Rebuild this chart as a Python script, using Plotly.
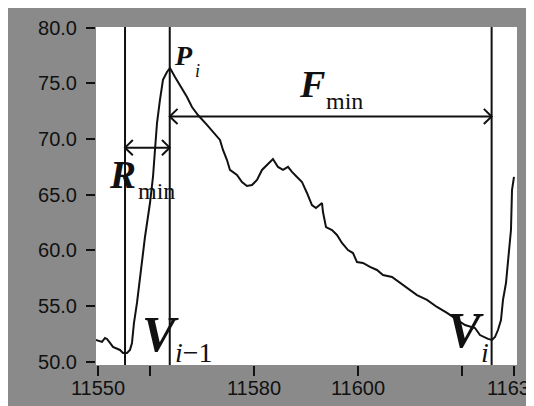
import plotly.graph_objects as go

# ---- data ----
sample_x = [11549.6, 11550.77, 11551.35, 11551.73, 11552.31, 11552.88, 11554.23, 11554.81,
            11555.58, 11556.15, 11556.54, 11556.92, 11557.5, 11558.08, 11559.04, 11560.0,
            11560.58, 11560.96, 11561.35, 11561.92, 11562.5, 11563.27, 11563.85, 11564.81,
            11565.77, 11567.12, 11568.08, 11569.23, 11570.96, 11572.12, 11573.46, 11574.04,
            11574.81, 11575.38, 11576.73, 11577.69, 11578.65, 11579.62, 11580.58, 11581.54,
            11582.5, 11583.65, 11584.62, 11585.58, 11586.54, 11587.31, 11588.27, 11589.23,
            11590.19, 11591.15, 11591.92, 11593.08, 11593.27, 11593.85, 11595.0, 11595.96,
            11596.92, 11598.08, 11599.04, 11599.81, 11600.96, 11602.31, 11603.65, 11604.81,
            11606.54, 11608.08, 11609.42, 11611.35, 11613.27, 11615.19, 11617.12, 11618.65,
            11620.58, 11622.5, 11623.46, 11625.0, 11625.77, 11626.35, 11626.92, 11627.5,
            11627.88, 11628.46, 11628.85, 11629.42, 11629.62, 11630.0]
pressure = [51.97, 51.79, 52.15, 52.06, 51.70, 51.34, 51.07, 50.80,
            50.80, 51.07, 51.70, 53.49, 55.29, 57.62, 61.21, 64.26,
            66.60, 69.02, 71.44, 73.51, 75.31, 76.02, 76.38, 75.57,
            74.86, 73.78, 72.88, 72.16, 71.27, 70.64, 69.92, 69.02,
            68.12, 67.23, 66.78, 66.15, 65.79, 65.88, 66.33, 67.23,
            67.68, 68.21, 67.50, 67.23, 67.50, 67.05, 66.60, 66.15,
            65.16, 64.08, 63.81, 64.26, 63.45, 62.10, 61.83, 61.39,
            60.67, 60.04, 59.77, 58.96, 58.88, 58.52, 58.25, 57.80,
            57.62, 57.08, 56.63, 56.00, 55.56, 54.93, 54.39, 53.94,
            53.31, 53.04, 52.41, 52.06, 51.97, 52.23, 52.86, 53.76,
            55.55, 57.08, 59.15, 61.84, 65.43, 66.60]

marker_x = [11555.2, 11563.8, 11625.7]          # V(i-1), P(i), V(i) vertical lines
r_arrow = (11555.2, 11563.8, 69.23)              # R_min span
f_arrow = (11563.8, 11625.7, 72.03)              # F_min span

x_tick_vals = [11550, 11560, 11580, 11600, 11620, 11630]
x_tick_text = ["11550", "", "11580", "11600", "", "11630"]

# ---- styling ----
X_RANGE = [11549.62, 11630.58]
Y_RANGE = [49.72, 80.06]
ARM_DX = 1.5
ARM_DY = 0.68
INK = "#111111"
SERIF = "Liberation Serif"

fig = go.Figure()

fig.add_trace(go.Scatter(x=sample_x, y=pressure, mode="lines",
                         line=dict(color=INK, width=2), showlegend=False,
                         hoverinfo="skip"))

# double-headed arrows (line + open chevrons)
for x1, x2, yv in (r_arrow, f_arrow):
    ax = [x1, x2, None,
          x1 + ARM_DX, x1, x1 + ARM_DX, None,
          x2 - ARM_DX, x2, x2 - ARM_DX]
    ay = [yv, yv, None,
          yv + ARM_DY, yv, yv - ARM_DY, None,
          yv + ARM_DY, yv, yv - ARM_DY]
    fig.add_trace(go.Scatter(x=ax, y=ay, mode="lines",
                             line=dict(color=INK, width=2), showlegend=False,
                             hoverinfo="skip"))

shapes = []
for mx in marker_x:
    shapes.append(dict(type="line", xref="x", yref="paper", x0=mx, x1=mx, y0=0, y1=1,
                       line=dict(color=INK, width=2), layer="above"))


def label(text, x, y, size, italic=True, bold=False):
    return dict(text=text, x=x, y=y, xref="x", yref="y", showarrow=False,
                xanchor="left", yanchor="middle",
                font=dict(family=SERIF, size=size, color=INK,
                          style="italic" if italic else "normal",
                          weight="bold" if bold else "normal"))


annotations = [
    label("P", 11564.23, 77.46, 28, bold=True),
    label("i", 11568.3, 76.11, 18),
    label("F", 11588.27, 74.90, 38, bold=True),
    label("min", 11593.46, 73.38, 24, italic=False),
    label("R", 11551.73, 66.78, 39, bold=True),
    label("min", 11557.3, 65.34, 24, italic=False),
    label("V", 11558.08, 52.46, 50, bold=True),
    label("<i>i</i>−1", 11564.42, 50.80, 28, italic=False),
    label("V", 11616.73, 52.82, 50, bold=True),
    label("i", 11623.27, 50.84, 28),
]

fig.update_layout(
    width=526, height=398,
    margin=dict(l=88, r=17, t=19, b=41, autoexpand=False),
    paper_bgcolor="#8a8a8a",
    plot_bgcolor="white",
    shapes=shapes,
    annotations=annotations,
    xaxis=dict(range=X_RANGE, showgrid=False, zeroline=False, showline=False,
               automargin=False,
               ticks="outside", ticklen=10, tickwidth=2, tickcolor=INK,
               tickmode="array", tickvals=x_tick_vals, ticktext=x_tick_text,
               ticklabeloverflow="allow", ticklabelstandoff=-5,
               tickfont=dict(family="Liberation Sans", size=20, color=INK)),
    yaxis=dict(range=Y_RANGE, showgrid=False, zeroline=False, showline=False,
               automargin=False,
               ticks="outside", ticklen=9, tickwidth=2, tickcolor=INK,
               tick0=50, dtick=5, tickformat=".1f", ticklabelstandoff=5,
               tickfont=dict(family="Liberation Sans", size=20, color=INK)),
)

fig.write_html("out.html")
